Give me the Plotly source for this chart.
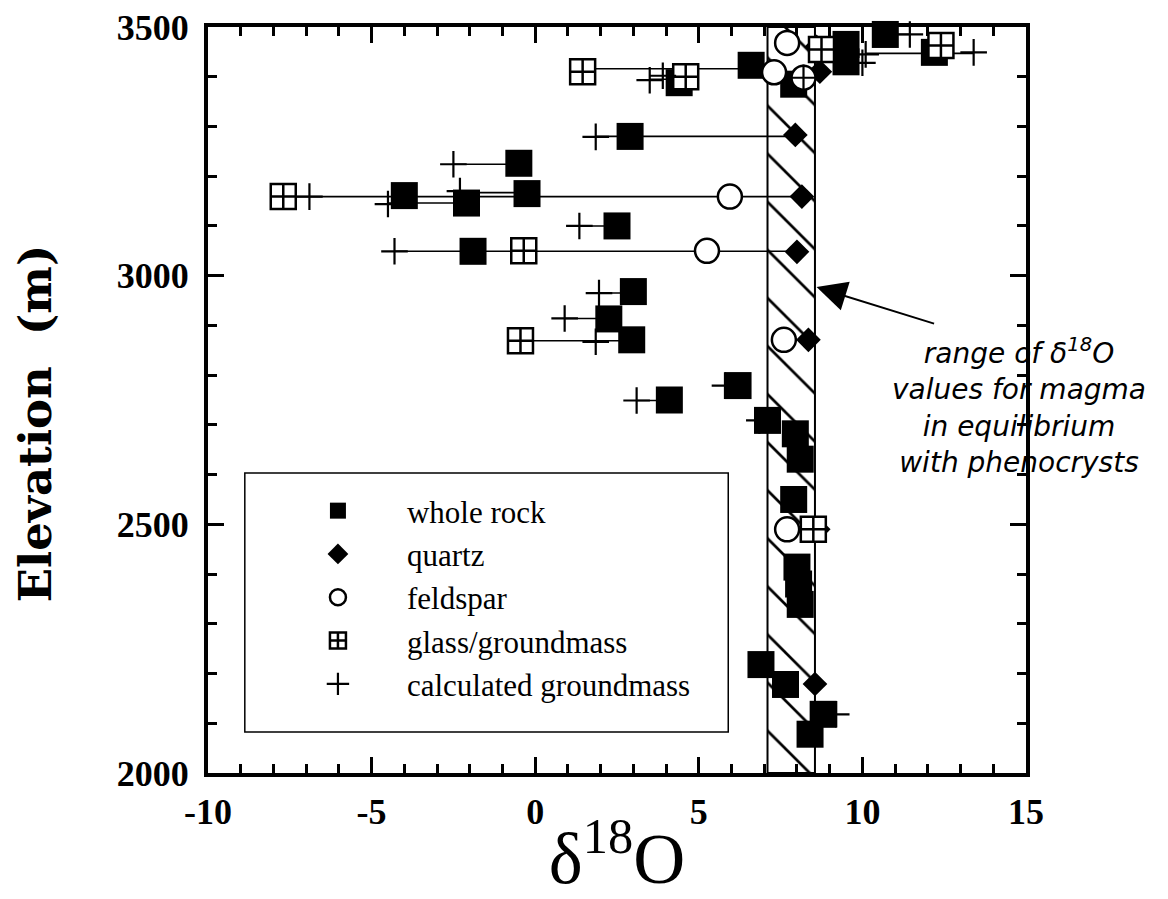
import plotly.graph_objects as go

# ---------------- data (delta 18O, elevation m) ----------------
wr_x = [10.7, 9.5, 9.5, 12.2, 6.6, 4.4, 7.9, 2.9, -0.5, -4.0, -2.1, -0.25, 2.5, -1.9,
        3.0, 2.25, 2.95, 4.1, 6.2, 7.1, 7.95, 8.1, 7.9, 8.0, 8.05, 8.1, 6.9, 7.65, 8.8, 8.4]
wr_y = [3485, 3465, 3430, 3449, 3423, 3388, 3385, 3280, 3226, 3161, 3146, 3165, 3100, 3049,
        2968, 2913, 2871, 2750, 2779, 2709, 2682, 2631, 2550, 2414, 2380, 2339, 2218, 2178, 2118, 2078]

qz_x = [8.6, 8.7, 7.95, 8.15, 8.0, 8.35, 8.65, 8.55]
qz_y = [3460, 3410, 3283, 3159, 3048, 2871, 2490, 2179]

fs_x = [7.7, 7.3, 8.2, 5.95, 5.25, 7.6, 7.7]
fs_y = [3468, 3409, 3398, 3159, 3050, 2871, 2490]

gl_x = [1.45, 4.6, 8.75, 12.4, -7.7, -0.35, -0.45, 8.5]
gl_y = [3410, 3400, 3455, 3463, 3159, 3050, 2869, 2490]

cg_x = [11.45, 13.4, 10.1, 10.0, 3.5, 3.9, 8.2, 1.85, -2.5, -6.9, -4.5, -2.3, 1.35, -4.3,
        1.95, 0.9, 1.85, 3.1, 5.8, 6.85, 9.2]
cg_y = [3485, 3449, 3445, 3428, 3393, 3402, 3398, 3279, 3224, 3159, 3144, 3170, 3100, 3049,
        2965, 2914, 2867, 2749, 2779, 2709, 2118]

# tie lines joining analyses of the same sample
tie_y = [3485, 3447, 3416, 3395, 3280, 3224, 3159, 3146, 3167, 3100, 3049, 2965, 2914, 2869,
         2779, 2749, 2709, 2118]
tie_x0 = [10.7, 10.1, 1.45, 3.5, 1.85, -2.5, -7.7, -4.5, -2.3, 1.35, -4.3, 1.95, 0.9, -0.45,
          5.8, 3.1, 6.85, 8.8]
tie_x1 = [11.45, 13.4, 6.6, 4.6, 7.95, -0.5, 8.15, -2.1, -0.25, 2.5, 8.0, 3.0, 2.25, 2.95,
          6.2, 4.1, 7.1, 9.2]

# magma range band
band_x = [7.1, 8.55]
elev_range = [2000, 3500]

x_ticks = [-10, -5, 0, 5, 10, 15]
y_ticks = [2000, 2500, 3000, 3500]

# ---------------- figure ----------------
fig = go.Figure()

fig.add_trace(go.Scatter(
    x=[band_x[0], band_x[1], band_x[1], band_x[0], band_x[0]],
    y=[elev_range[0], elev_range[0], elev_range[1], elev_range[1], elev_range[0]],
    mode="lines", fill="toself", fillcolor="white",
    fillpattern=dict(shape="\\", fgcolor="black", bgcolor="white", size=34, solidity=0.08,
                     fgopacity=1),
    line=dict(color="black", width=2), showlegend=False, hoverinfo="skip"))

tx, ty = [], []
for y, a, b in zip(tie_y, tie_x0, tie_x1):
    tx += [a, b, None]
    ty += [y, y, None]
fig.add_trace(go.Scatter(x=tx, y=ty, mode="lines", line=dict(color="black", width=1.6),
                         showlegend=False, hoverinfo="skip"))

fig.add_trace(go.Scatter(x=wr_x, y=wr_y, mode="markers", name="whole rock", cliponaxis=False,
                         marker=dict(symbol="square", size=27, color="black",
                                     line=dict(width=0, color="black"))))
fig.add_trace(go.Scatter(x=qz_x, y=qz_y, mode="markers", name="quartz", cliponaxis=False,
                         marker=dict(symbol="diamond", size=19, color="black",
                                     line=dict(width=0, color="black"))))
fig.add_trace(go.Scatter(x=fs_x, y=fs_y, mode="markers", name="feldspar", cliponaxis=False,
                         marker=dict(symbol="circle", size=24, color="white",
                                     line=dict(width=2.5, color="black"))))
fig.add_trace(go.Scatter(x=gl_x, y=gl_y, mode="markers", name="glass/groundmass", cliponaxis=False,
                         marker=dict(symbol="square-cross", size=25, color="white",
                                     line=dict(width=2.5, color="black"))))
fig.add_trace(go.Scatter(x=cg_x, y=cg_y, mode="markers", name="calculated groundmass",
                         cliponaxis=False,
                         marker=dict(symbol="cross-thin", size=19, color="black",
                                     line=dict(width=2.2, color="black"))))

tickfont = dict(family="Liberation Serif", size=36, color="black", weight="bold")

fig.update_xaxes(
    range=[-10, 15], tickmode="array", tickvals=x_ticks, ticktext=[str(v) for v in x_ticks],
    ticks="inside", ticklen=16, tickwidth=3, tickcolor="black",
    showline=True, linewidth=4, linecolor="black", mirror="ticks",
    showgrid=False, zeroline=False, tickfont=tickfont, ticklabelstandoff=4,
    minor=dict(ticks="inside", ticklen=9, tickwidth=3, tickcolor="black", dtick=1,
               tick0=0, showgrid=False),
    title=dict(text="δ<sup>18</sup>O",
               font=dict(family="Liberation Serif", size=72, color="black"), standoff=34))

fig.update_yaxes(
    range=[2000, 3500], tickmode="array", tickvals=y_ticks, ticktext=[str(v) for v in y_ticks],
    ticks="inside", ticklen=16, tickwidth=3, tickcolor="black",
    showline=True, linewidth=4, linecolor="black", mirror="ticks",
    showgrid=False, zeroline=False, tickfont=tickfont, ticklabelstandoff=8,
    minor=dict(ticks="inside", ticklen=9, tickwidth=3, tickcolor="black", dtick=100,
               tick0=2000, showgrid=False),
    title=dict(text="Elevation  (m)&nbsp;&nbsp;&nbsp;",
               font=dict(family="DejaVu Serif", size=45, color="black", weight="bold"),
               standoff=52))

# legend frame
fig.add_shape(type="rect", xref="paper", yref="paper", x0=0.045, x1=0.636, y0=0.055, y1=0.402,
              line=dict(color="black", width=1.5), fillcolor="rgba(0,0,0,0)", layer="below")

# band annotation
fig.add_annotation(xref="paper", yref="paper", x=0.991, y=0.492, xanchor="center",
                   yanchor="middle", showarrow=False, align="center",
                   text="range of δ<sup>18</sup>O<br>values for magma<br>in equilibrium<br>with phenocrysts",
                   font=dict(family="DejaVu Sans", size=28, color="black", style="italic"))
fig.add_annotation(x=8.6, y=2977, xref="x", yref="y", ax=119, ay=37, text="",
                   showarrow=True, arrowhead=2, arrowsize=3, arrowwidth=2, arrowcolor="black")

fig.update_layout(
    width=1168, height=899,
    margin=dict(l=208, r=142, t=27, b=126, autoexpand=False),
    paper_bgcolor="white", plot_bgcolor="white",
    showlegend=True,
    legend=dict(x=0.0745, y=0.3874, xanchor="left", yanchor="top", itemwidth=128,
                font=dict(family="Liberation Serif", size=31, color="black"),
                bgcolor="rgba(0,0,0,0)", borderwidth=0, tracegroupgap=0),
)

fig.write_html("out.html")
